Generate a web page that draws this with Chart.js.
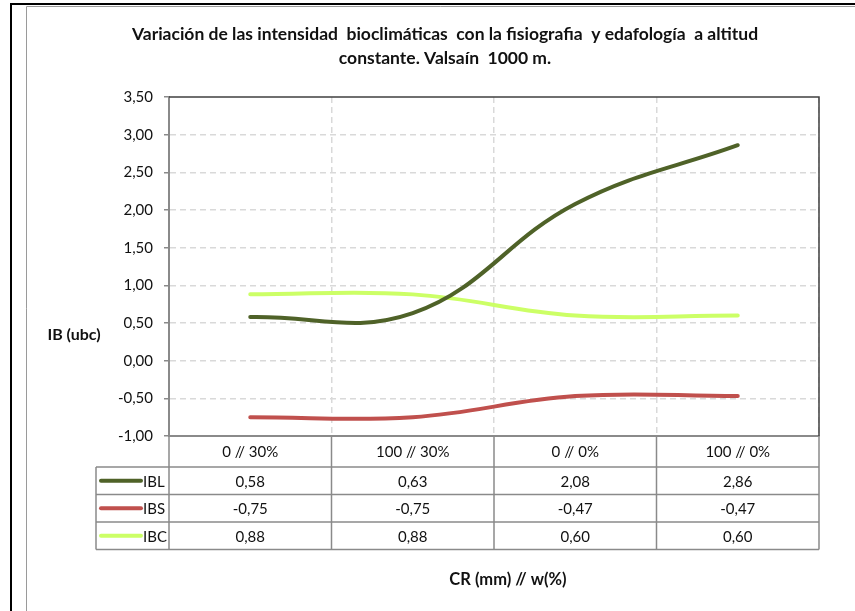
<!DOCTYPE html>
<html lang="es">
<head>
    <meta charset="UTF-8">
    <title>Variación de las intensidad bioclimáticas</title>
    <script src="https://cdn.jsdelivr.net/npm/chart.js"></script>
    <style>
        body {
            margin: 0;
            background: #fff;
        }
        #wrap {
            width: 855px;
            height: 611px;
        }
    </style>
</head>
<body>
    <div id="wrap">
        <canvas id="ibChart" width="855" height="611"></canvas>
    </div>

    <script>
        const categories = ['0 // 30%', '100 // 30%', '0 // 0%', '100 // 0%'];
        const seriesNames = ['IBL', 'IBS', 'IBC'];
        const iblValues = [0.58, 0.63, 2.08, 2.86];
        const ibsValues = [-0.75, -0.75, -0.47, -0.47];
        const ibcValues = [0.88, 0.88, 0.60, 0.60];
        const seriesColors = ['#4F6228', '#C0504D', '#CCFF66'];

        const titleLines = [
            'Variación de las intensidad  bioclimáticas  con la fisiografia  y edafología  a altitud',
            'constante. Valsaín  1000 m.'
        ];
        const yTitle = 'IB (ubc)';
        const xTitle = 'CR (mm) // w(%)';

        const FONT = 'Lato, "Open Sans", sans-serif';

        function fmt(v) {
            return v.toFixed(2).replace('.', ',');
        }

        const frameAndTable = {
            id: 'frameAndTable',
            beforeDraw(chart) {
                const ctx = chart.ctx;
                ctx.save();
                ctx.fillStyle = '#fff';
                ctx.fillRect(0, 0, chart.width, chart.height);
                // outer frames
                ctx.strokeStyle = '#000';
                ctx.lineWidth = 2;
                ctx.beginPath();
                ctx.moveTo(11, chart.height);
                ctx.lineTo(11, 4);
                ctx.lineTo(chart.width, 4);
                ctx.stroke();
                ctx.strokeStyle = '#9a9a9a';
                ctx.lineWidth = 1;
                ctx.beginPath();
                ctx.moveTo(26.5, chart.height);
                ctx.lineTo(26.5, 6.5);
                ctx.lineTo(chart.width, 6.5);
                ctx.stroke();
                ctx.restore();
            },
            afterDraw(chart) {
                const ctx = chart.ctx;
                const area = chart.chartArea;
                const xs = chart.scales.x;
                const half = (xs.getPixelForValue(1) - xs.getPixelForValue(0)) / 2;
                const edges = [area.left];
                categories.forEach((c, i) => edges.push(xs.getPixelForValue(i) + half));

                ctx.save();

                // plot area top / right border
                ctx.strokeStyle = '#404040';
                ctx.lineWidth = 1.5;
                ctx.beginPath();
                ctx.moveTo(area.left, area.top);
                ctx.lineTo(area.right, area.top);
                ctx.lineTo(area.right, area.bottom);
                ctx.stroke();

                // title
                ctx.fillStyle = '#111';
                ctx.font = 'bold 17.5px ' + FONT;
                ctx.textAlign = 'center';
                ctx.textBaseline = 'middle';
                ctx.fillText(titleLines[0], 445, 34);
                ctx.fillText(titleLines[1], 445, 58);

                // axis titles
                ctx.font = 'bold 16px ' + FONT;
                ctx.fillText(yTitle, 74, 335);
                ctx.font = 'bold 16.5px ' + FONT;
                ctx.fillText(xTitle, (area.left + area.right) / 2 + 14, 580);

                // data table
                const headTop = area.bottom;
                const headH = 31;
                const rowH = 27.5;
                const legLeft = 96;
                const tableBottom = headTop + headH + rowH * seriesNames.length;

                ctx.strokeStyle = '#8a8a8a';
                ctx.lineWidth = 1.5;
                ctx.beginPath();
                edges.forEach((x) => {
                    ctx.moveTo(x, headTop);
                    ctx.lineTo(x, tableBottom);
                });
                ctx.moveTo(legLeft, headTop + headH);
                ctx.lineTo(legLeft, tableBottom);
                for (let r = 0; r <= seriesNames.length; r++) {
                    const y = headTop + headH + r * rowH;
                    ctx.moveTo(legLeft, y);
                    ctx.lineTo(area.right, y);
                }
                ctx.stroke();

                ctx.font = '15px ' + FONT;
                ctx.fillStyle = '#111';
                categories.forEach((c, i) => {
                    ctx.fillText(c, xs.getPixelForValue(i), headTop + headH / 2 + 1);
                });

                chart.data.datasets.forEach((ds, r) => {
                    const cy = headTop + headH + r * rowH + rowH / 2;
                    ctx.strokeStyle = ds.borderColor;
                    ctx.lineWidth = 4;
                    ctx.lineCap = 'round';
                    ctx.beginPath();
                    ctx.moveTo(101, cy);
                    ctx.lineTo(141, cy);
                    ctx.stroke();
                    ctx.textAlign = 'left';
                    ctx.fillStyle = '#111';
                    ctx.fillText(ds.label, 143, cy + 1);
                    ctx.textAlign = 'center';
                    ds.data.forEach((v, i) => {
                        ctx.fillText(fmt(v), xs.getPixelForValue(i), cy + 1);
                    });
                });

                ctx.restore();
            }
        };

        const ctx = document.getElementById('ibChart').getContext('2d');
        const chart = new Chart(ctx, {
            type: 'line',
            data: {
                labels: categories,
                datasets: [
                    { label: seriesNames[0], data: iblValues, borderColor: seriesColors[0] },
                    { label: seriesNames[1], data: ibsValues, borderColor: seriesColors[1] },
                    { label: seriesNames[2], data: ibcValues, borderColor: seriesColors[2] }
                ]
            },
            options: {
                responsive: false,
                animation: false,
                layout: {
                    padding: { top: 97, right: 36, bottom: 0, left: 0 }
                },
                elements: {
                    line: { borderWidth: 4, tension: 0.4, borderCapStyle: 'round', fill: false },
                    point: { radius: 0, hoverRadius: 0 }
                },
                plugins: {
                    legend: { display: false },
                    title: { display: false },
                    tooltip: { enabled: false }
                },
                scales: {
                    x: {
                        offset: true,
                        grid: {
                            offset: true,
                            color: '#d9d9d9',
                            lineWidth: 1.5,
                            drawTicks: false
                        },
                        border: { color: '#8a8a8a', width: 2, dash: [6, 4] },
                        ticks: { display: false },
                        afterFit(scale) {
                            scale.height = 175;
                        }
                    },
                    y: {
                        min: -1,
                        max: 3.5,
                        grid: {
                            color: (c) => (c.tick && c.tick.value === 3.5 ? 'rgba(0,0,0,0)' : '#d9d9d9'),
                            lineWidth: 1.5,
                            tickLength: 5,
                            tickColor: '#8a8a8a',
                            tickBorderDash: []
                        },
                        border: { color: '#8a8a8a', width: 2, dash: [6, 4] },
                        ticks: {
                            stepSize: 0.5,
                            padding: 11,
                            color: '#111',
                            font: { family: FONT, size: 15 },
                            callback: (v) => fmt(v)
                        },
                        afterFit(scale) {
                            scale.width = 169;
                        }
                    }
                }
            },
            plugins: [frameAndTable]
        });
    </script>
</body>
</html>
